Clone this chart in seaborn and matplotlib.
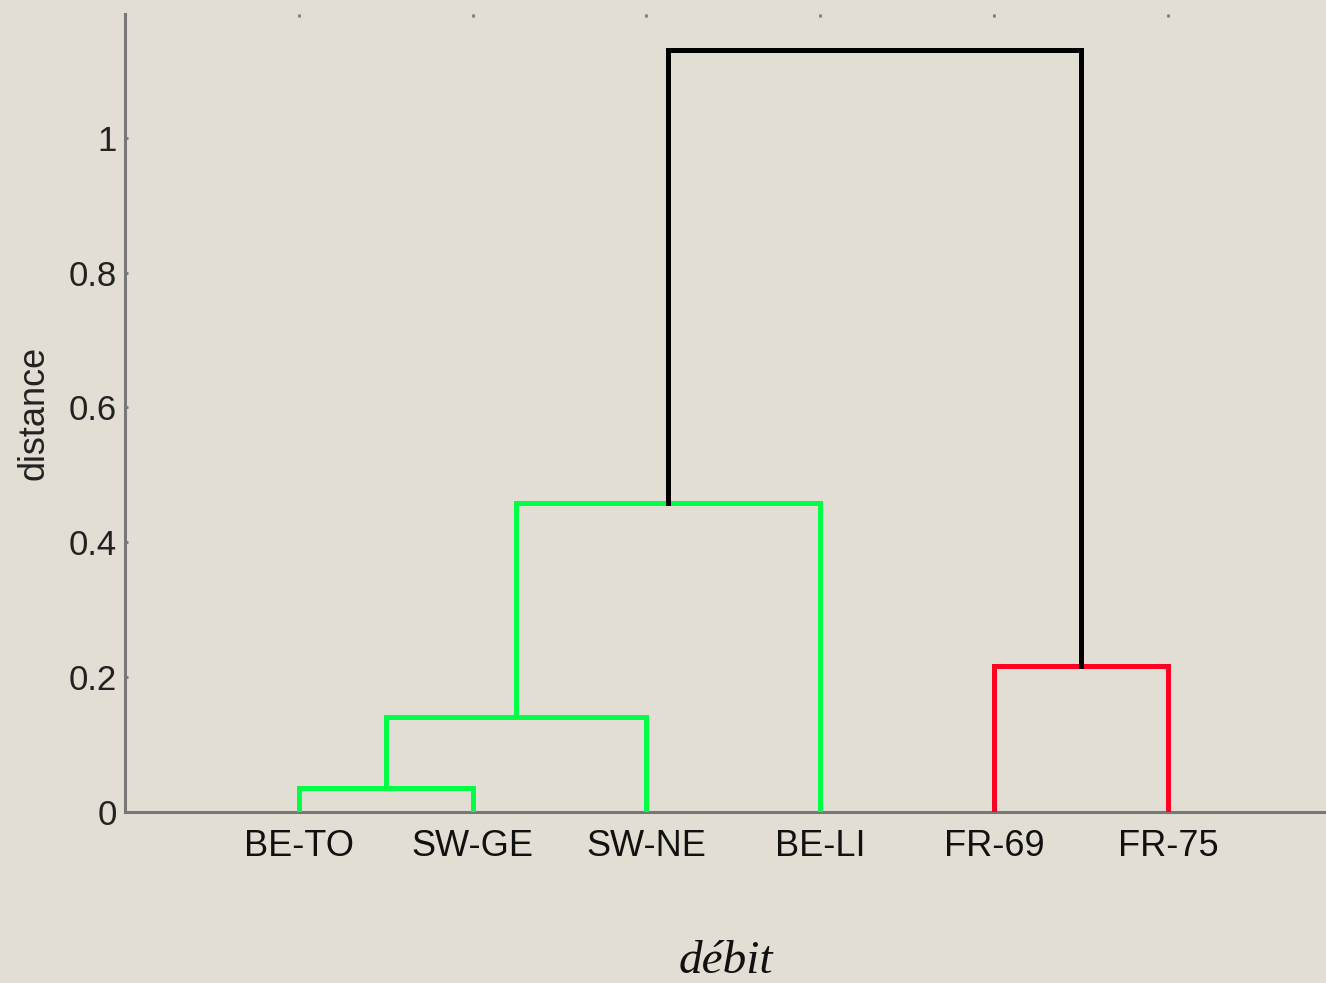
import numpy as np
import pandas as pd
import seaborn as sns
import matplotlib.pyplot as plt

# leaves of the dendrogram (left to right) and the merges, scipy-style
leaves = ["BE-TO", "SW-GE", "SW-NE", "BE-LI", "FR-69", "FR-75"]
merge_left = [0, 6, 4, 7, 9]
merge_right = [1, 2, 5, 3, 8]
merge_height = [0.036, 0.141, 0.216, 0.458, 1.130]
merge_color = ["green", "green", "red", "green", "black"]

ytick_vals = [0, 0.2, 0.4, 0.6, 0.8, 1.0]
ytick_labels = ["0", "0.2", "0.4", "0.6", "0.8", "1"]

palette = {"green": "#00ff44", "red": "#ff0022", "black": "#000000"}
bg = "#e3ded3"

# build the U-shaped segments for each merge
node_x = {i: i + 1 for i in range(len(leaves))}
node_y = {i: 0.0 for i in range(len(leaves))}
rows = []
for k, (a, b, h, c) in enumerate(zip(merge_left, merge_right, merge_height, merge_color)):
    xs = [node_x[a], node_x[a], node_x[b], node_x[b]]
    ys = [node_y[a], h, h, node_y[b]]
    for j, (x, y) in enumerate(zip(xs, ys)):
        rows.append({"link": k, "order": j, "x": x, "y": y, "color": c})
    new = len(leaves) + k
    node_x[new] = (node_x[a] + node_x[b]) / 2
    node_y[new] = h
df = pd.DataFrame(rows)

sns.set_style("ticks")
plt.rcParams["font.family"] = ["Liberation Sans", "DejaVu Sans"]

fig = plt.figure(figsize=(13.26, 9.83), dpi=100, facecolor=bg)
ax = fig.add_axes([0.0943, 0.174, 0.9057, 0.812])
ax.set_facecolor(bg)

sns.lineplot(data=df, x="x", y="y", units="link", estimator=None, sort=False,
             hue="color", palette=palette, legend=False, linewidth=3.6, ax=ax,
             solid_capstyle="projecting", solid_joinstyle="miter", zorder=3)

ax.set_xlim(0, 6.91)
ax.set_ylim(0, 1.184)

ax.set_xticks(range(1, len(leaves) + 1))
ax.set_xticklabels(leaves, fontsize=26, color="#111111")
ax.set_yticks(ytick_vals)
ax.set_yticklabels(ytick_labels, fontsize=25, color="#222222")

ax.tick_params(axis="x", bottom=False, top=True, direction="in", length=2,
               width=2, color="#777777", pad=12)
ax.tick_params(axis="y", left=True, direction="in", length=2, width=2,
               color="#777777", pad=6)

for side in ["top", "right"]:
    ax.spines[side].set_visible(False)
for side in ["left", "bottom"]:
    ax.spines[side].set_color("#777777")
    ax.spines[side].set_linewidth(2.2)

ax.set_ylabel("distance", fontsize=26, color="#222222", labelpad=12)
ax.set_xlabel("débit", fontsize=34, family=["Liberation Serif"], style="italic",
              color="#111111", labelpad=55)

fig.savefig("out.png", dpi=100, facecolor=bg)
